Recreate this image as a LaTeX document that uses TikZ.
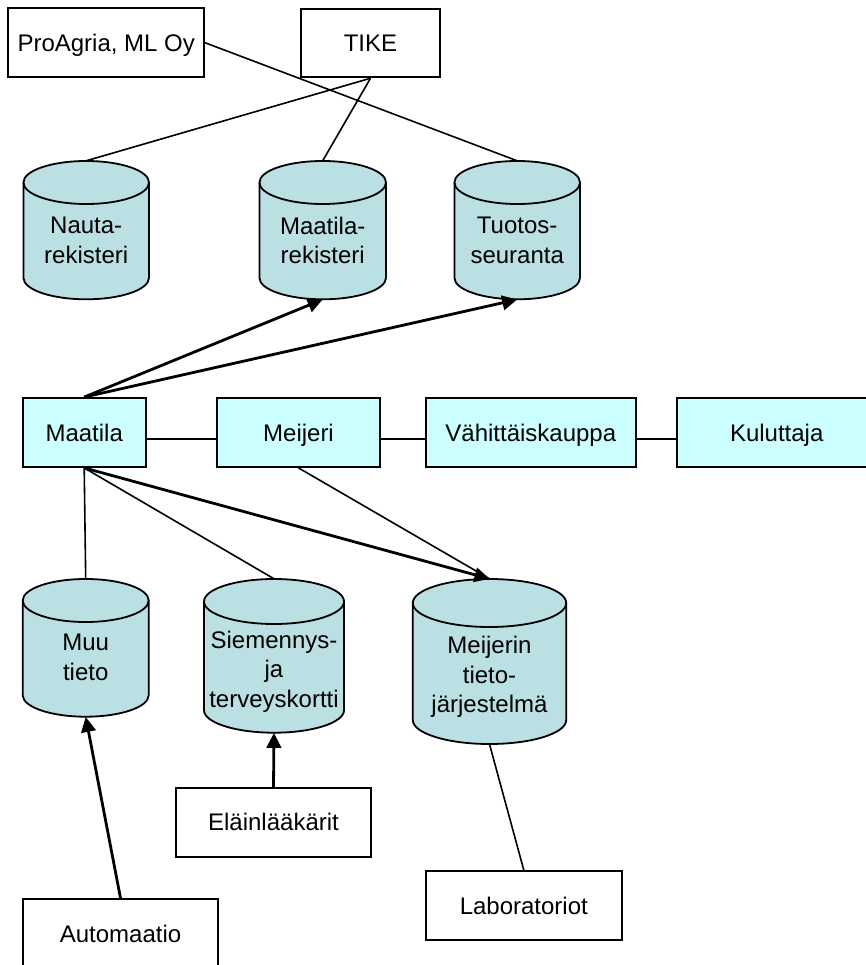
\documentclass[tikz,border=0pt]{standalone}
\usepackage{fontspec}
\setmainfont{Liberation Sans}
\usetikzlibrary{arrows.meta,fit}
\definecolor{cylfill}{RGB}{186,224,228}
\definecolor{rowfill}{RGB}{204,255,255}
\tikzset{
  box/.style={draw=black, line width=1.8pt, inner sep=0pt, text height=17pt, text depth=0pt, font=\fontsize{24}{29}\selectfont},
  rowbox/.style={box, fill=rowfill},
  cylbody/.style={draw=black, line width=1.8pt, fill=cylfill},
  cyltext/.style={anchor=north, inner sep=0pt, align=center, font=\fontsize{24}{29.5}\selectfont},
  conn/.style={line width=1.6pt},
  heavy/.style={line width=2.8pt},
  arr/.style={heavy, -{Triangle[length=15pt,width=14.5pt]}},
}
% name, cx, rx, ytop, ybot, ry, texttop, text
\newcommand\dbcyl[8]{%
  \filldraw[cylbody] ({#2-#3},{-(#4+#6)}) -- ({#2-#3},{-(#5-#6)})
     arc[start angle=180,end angle=360,x radius=#3pt,y radius=#6pt]
     -- ({#2+#3},{-(#4+#6)})
     arc[start angle=0,end angle=180,x radius=#3pt,y radius=#6pt] -- cycle;
  \draw[cylbody,fill=none] ({#2-#3},{-(#4+#6)}) arc[start angle=180,end angle=360,x radius=#3pt,y radius=#6pt];
  \node[inner sep=0pt, fit={({#2-#3},{-#4}) ({#2+#3},{-#5})}] (#1) {};
  \node[cyltext] (#1-t) at (#2,{-#7}) {#8};
}
\begin{document}
\begin{tikzpicture}[x=1pt,y=1pt]
\useasboundingbox (0,0) rectangle (866,-965);
\clip (0,0) rectangle (866,-965);

% top boxes
\node[box, minimum width=195.7pt, minimum height=68.7pt] (proagria) at (106.2,-42.7) {ProAgria, ML Oy};
\node[box, minimum width=139pt, minimum height=68.7pt] (tike) at (370.5,-43) {TIKE};

% upper cylinders
\dbcyl{nauta}{86.2}{62.8}{161}{299.3}{21.5}{217}{Nauta-\\rekisteri}
\dbcyl{maarek}{322.7}{63.3}{161}{299.3}{21.5}{216.5}{Maatila-\\rekisteri}
\dbcyl{tuotos}{517.2}{62.8}{161}{299.3}{21.5}{217}{Tuotos-\\seuranta}

% row
\node[rowbox, minimum width=123pt, minimum height=69pt] (maatila) at (84.2,-432.5) {Maatila};
\node[rowbox, minimum width=163pt, minimum height=69pt] (meijeri) at (298.5,-432.5) {Meijeri};
\node[rowbox, minimum width=209.7pt, minimum height=69pt] (vahittais) at (530.8,-432.5) {Vähittäiskauppa};
\node[rowbox, minimum width=200pt, minimum height=69pt] (kuluttaja) at (776.7,-432.5) {Kuluttaja};

% lower cylinders
\dbcyl{muu}{85.7}{63}{579}{716.7}{21.5}{634}{Muu\\tieto}
\dbcyl{siem}{274}{70}{579}{732.7}{22.5}{630.5}{Siemennys-\\ja\\terveyskortti}
\dbcyl{meij}{489.5}{76.7}{579}{744}{24}{636}{Meijerin\\tieto-\\järjestelmä}

% bottom boxes
\node[box, minimum width=194.5pt, minimum height=69pt] (elain) at (273.5,-822.2) {Eläinlääkärit};
\node[box, minimum width=195.6pt, minimum height=69pt] (auto) at (120.5,-933.5) {Automaatio};
\node[box, minimum width=195.7pt, minimum height=69pt] (lab) at (523.8,-905.5) {Laboratoriot};

% connectors
\draw[conn] (proagria.east) -- (tuotos.north);
\draw[conn] (tike.south) -- (nauta.north);
\draw[conn] (tike.south) -- (maarek.north);
\draw[arr] (maatila.north) -- (maarek.south);
\draw[arr] (maatila.north) -- (tuotos.south);

\draw[heavy] ([yshift=-6.5pt]maatila.east) -- ([yshift=-6.5pt]meijeri.west);
\draw[heavy] ([yshift=-6.5pt]meijeri.east) -- ([yshift=-6.5pt]vahittais.west);
\draw[heavy] ([yshift=-6.5pt]vahittais.east) -- ([yshift=-6.5pt]kuluttaja.west);

\draw[conn] (maatila.south) -- (muu.north);
\draw[conn] (maatila.south) -- (siem.north);
\draw[conn] (meijeri.south) -- (meij.north);
\draw[arr] (maatila.south) -- (meij.north);

\draw[arr] (auto.north) -- (muu.south);
\draw[arr] (elain.north) -- (siem.south);
\draw[conn] (meij.south) -- (lab.north);
\end{tikzpicture}
\end{document}
